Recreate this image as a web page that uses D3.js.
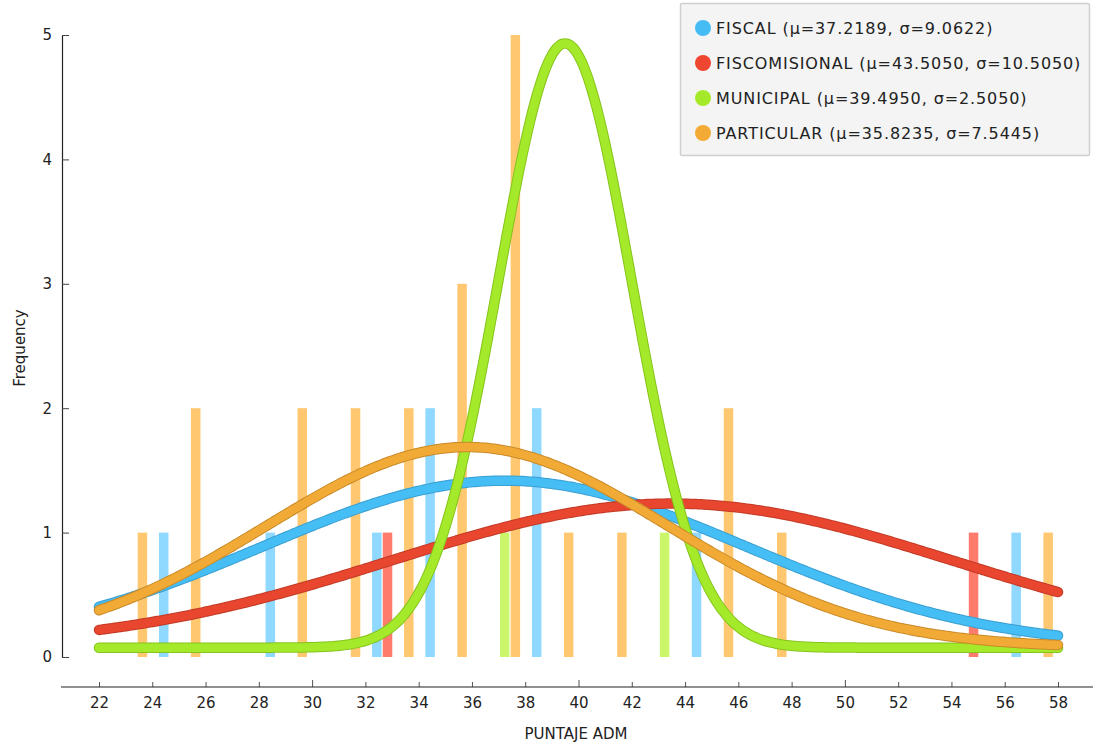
<!DOCTYPE html>
<html>
<head>
<meta charset="utf-8">
<script src="https://cdn.jsdelivr.net/npm/d3@7"></script>
<style>
  html, body { margin: 0; padding: 0; background: #ffffff; }
  svg { display: block; font-family: "DejaVu Sans", Verdana, sans-serif; }
</style>
</head>
<body>
<svg id="chart" width="1093" height="744"></svg>
<script>
// ---- data ----
const seriesNames = ["FISCAL", "FISCOMISIONAL", "MUNICIPAL", "PARTICULAR"];
const seriesMeans = [37.2189, 43.5050, 39.4950, 35.8235];
const seriesSigmas = [9.0622, 10.5050, 2.5050, 7.5445];
const binStarts = [22, 24, 26, 28, 30, 32, 34, 36, 38, 40, 42, 44, 46, 48, 50, 52, 54, 56];
const countsFiscal        = [0, 1, 0, 1, 0, 1, 2, 0, 2, 0, 0, 1, 0, 0, 0, 0, 0, 1];
const countsFiscomisional = [0, 0, 0, 0, 0, 1, 0, 0, 0, 0, 0, 0, 0, 0, 0, 0, 1, 0];
const countsMunicipal     = [0, 0, 0, 0, 0, 0, 0, 1, 0, 0, 1, 0, 0, 0, 0, 0, 0, 0];
const countsParticular    = [1, 2, 0, 2, 2, 2, 3, 5, 1, 1, 0, 2, 1, 0, 0, 0, 0, 1];
const xTicks = [22, 24, 26, 28, 30, 32, 34, 36, 38, 40, 42, 44, 46, 48, 50, 52, 54, 56, 58];
const yTicks = [0, 1, 2, 3, 4, 5];
const curveScale = 30.5;   // fitted-curve height factor
const curveOffset = 0.075; // fitted-curve baseline lift
const xLabel = "PUNTAJE ADM";
const yLabel = "Frequency";

const seriesCounts = [countsFiscal, countsFiscomisional, countsMunicipal, countsParticular];
const barColors = ["#8fd8ff", "#ff7c6c", "#ccf66a", "#ffc870"];
const lineColors = ["#45bdf5", "#e8462e", "#a4ea2a", "#f1aa35"];
const edgeColors = ["#3a9fd0", "#c23a26", "#86c31c", "#c98a28"];
const dotColors  = ["#46bcf5", "#ee4630", "#a5ea2a", "#f4ab35"];

// ---- scales ----
const svg = d3.select("#chart");
const x = d3.scaleLinear().domain([22, 58]).range([99, 1058]);
const y = d3.scaleLinear().domain([0, 5]).range([657, 35]);
const offset = d3.scalePoint().domain(seriesNames).range([0.43, 1.63]);
const barW = 9.5;

// ---- bars ----
const barData = [];
seriesNames.forEach((s, si) => {
  seriesCounts[si].forEach((c, bi) => {
    if (c > 0) barData.push({ s, si, v: binStarts[bi] + offset(s), c });
  });
});
svg.append("g").selectAll("rect").data(barData).join("rect")
  .attr("x", d => x(d.v) - barW / 2)
  .attr("y", d => y(d.c))
  .attr("width", barW)
  .attr("height", d => y(0) - y(d.c))
  .attr("fill", d => barColors[d.si]);

// ---- y axis ----
const yAxis = d3.axisLeft(y).tickValues(yTicks).tickFormat(d3.format("d"))
  .tickSizeInner(-7).tickSizeOuter(0).tickPadding(10);
const gy = svg.append("g").attr("transform", "translate(62,0)").call(yAxis);
gy.select(".domain").attr("stroke", "#222").attr("stroke-width", 1.2);
gy.selectAll(".tick line").attr("stroke", "#444");
gy.selectAll("text").attr("font-size", 15).attr("fill", "#222")
  .attr("font-family", "DejaVu Sans");

// ---- x axis ----
const xAxis = d3.axisBottom(x).tickValues(xTicks).tickFormat(d3.format("d"))
  .tickSizeInner(-5).tickSizeOuter(0).tickPadding(10);
const gx = svg.append("g").attr("transform", "translate(0,687)").call(xAxis);
gx.select(".domain").remove();
gx.append("line").attr("x1", 61).attr("x2", 1093).attr("y1", 0).attr("y2", 0)
  .attr("stroke", "#222").attr("stroke-width", 1.2);
gx.selectAll(".tick line").attr("stroke", "#555")
  .attr("y2", d => (d % 10 === 0 ? -7 : -5));
gx.selectAll("text").attr("font-size", 15).attr("fill", "#222")
  .attr("font-family", "DejaVu Sans");

// axis titles
svg.append("text").attr("x", 576).attr("y", 739).attr("text-anchor", "middle")
  .attr("font-size", 15).attr("fill", "#222").text(xLabel);
svg.append("text").attr("transform", "translate(25,348) rotate(-90)")
  .attr("text-anchor", "middle").attr("font-size", 15).attr("fill", "#222").text(yLabel);

// ---- fitted curves ----
const samples = d3.range(22, 58.0001, 0.1);
const pdf = (v, m, s) => Math.exp(-0.5 * ((v - m) / s) ** 2) / (s * Math.sqrt(2 * Math.PI));
const line = d3.line().x(d => x(d[0])).y(d => y(d[1])).curve(d3.curveMonotoneX);
const gc = svg.append("g");
seriesNames.forEach((s, si) => {
  const pts = samples.map(v => [v, curveOffset + curveScale * pdf(v, seriesMeans[si], seriesSigmas[si])]);
  gc.append("path").attr("d", line(pts)).attr("fill", "none")
    .attr("stroke", edgeColors[si]).attr("stroke-width", 10.5)
    .attr("stroke-linecap", "round").attr("stroke-linejoin", "round");
  gc.append("path").attr("d", line(pts)).attr("fill", "none")
    .attr("stroke", lineColors[si]).attr("stroke-width", 8.5)
    .attr("stroke-linecap", "round").attr("stroke-linejoin", "round");
});

// ---- legend ----
const lg = svg.append("g");
lg.append("rect").attr("x", 680.5).attr("y", 3.5).attr("width", 409).attr("height", 152)
  .attr("fill", "#f4f4f4").attr("stroke", "#cfcfcf").attr("stroke-width", 1.5).attr("rx", 1.5);
const fmt = d3.format(".4f");
seriesNames.forEach((s, si) => {
  const cy = 28 + si * 35;
  lg.append("circle").attr("cx", 703).attr("cy", cy).attr("r", 8).attr("fill", dotColors[si]);
  lg.append("text").attr("x", 716).attr("y", cy).attr("dy", "0.36em")
    .attr("font-size", 16).attr("letter-spacing", "0.9px").attr("fill", "#222")
    .text(`${s} (\u03bc=${fmt(seriesMeans[si])}, \u03c3=${fmt(seriesSigmas[si])})`);
});
</script>
</body>
</html>
